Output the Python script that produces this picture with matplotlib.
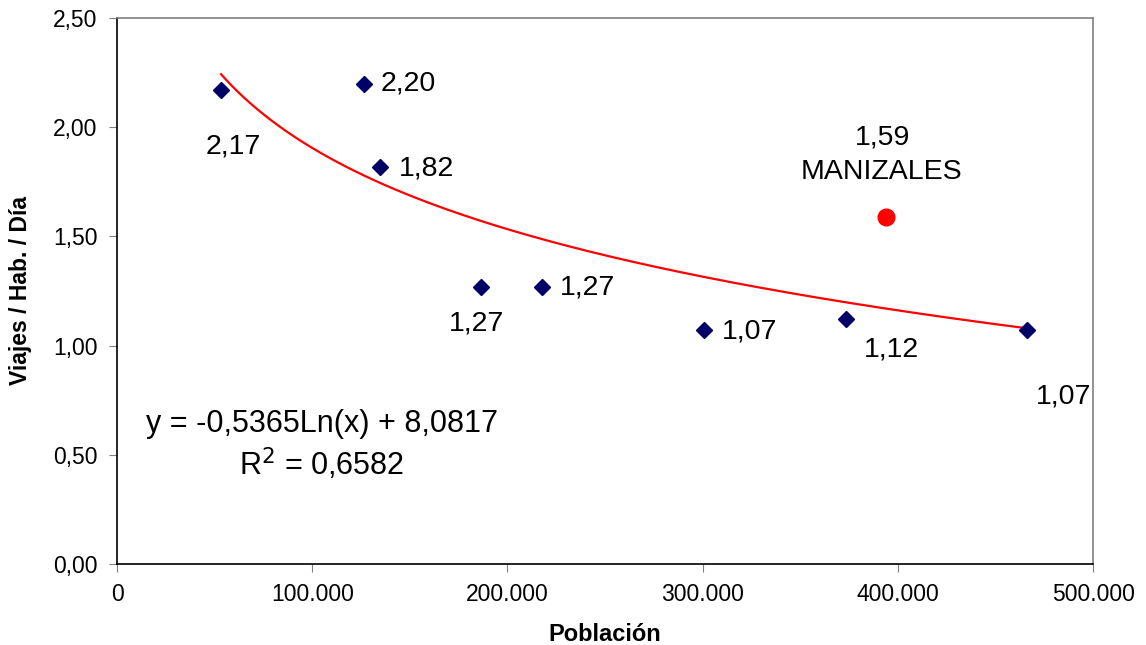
"""Viajes por habitante por día vs población, con tendencia logarítmica."""

import matplotlib

matplotlib.use("Agg")
import matplotlib.pyplot as plt
import numpy as np
from matplotlib.ticker import FuncFormatter

plt.rcParams["font.family"] = ["Liberation Sans", "DejaVu Sans"]

# data
poblacion = [53300, 126500, 134700, 186500, 217700, 300700, 373500, 466200]
viajes = [2.17, 2.20, 1.82, 1.27, 1.27, 1.07, 1.12, 1.07]
etiquetas = ["2,17", "2,20", "1,82", "1,27", "1,27", "1,07", "1,12", "1,07"]
# label offsets in pixels (dx, dy) and horizontal alignment
offsets = [(12, -56, "center"), (17, 0, "left"), (19, -2, "left"),
           (-5, -37, "center"), (18, -1, "left"), (18, -1, "left"),
           (45, -30, "center"), (36, -66, "center")]

manizales_x = 394000
manizales_y = 1.59

coef_a = -0.5365
coef_b = 8.0817
r2 = 0.6582


def fmt_x(v, _):
    return f"{int(v):,}".replace(",", ".")


def fmt_y(v, _):
    return f"{v:.2f}".replace(".", ",")


def main() -> int:
    fig = plt.figure(figsize=(11.46, 6.45), dpi=100)
    ax = fig.add_axes([0.1021, 0.1256, 0.8517, 0.8465])

    xs = np.linspace(min(poblacion), max(poblacion), 300)
    ax.plot(xs, coef_a * np.log(xs) + coef_b, color="#ff0000", lw=1.6, zorder=2)

    ax.plot(poblacion, viajes, "D", color="#000066", ms=8, ls="none", zorder=3)
    for x, y, lab, (dx, dy, ha) in zip(poblacion, viajes, etiquetas, offsets):
        ax.annotate(lab, xy=(x, y), xytext=(dx, dy), textcoords="offset pixels",
                    ha=ha, va="center", fontsize=20.5)

    ax.plot([manizales_x], [manizales_y], "o", color="#ff0000", ms=12, zorder=3)
    ax.annotate("1,59", xy=(manizales_x, manizales_y), xytext=(-4, 79),
                textcoords="offset pixels", ha="center", va="center", fontsize=20.5)
    ax.annotate("MANIZALES", xy=(manizales_x, manizales_y), xytext=(-5, 45),
                textcoords="offset pixels", ha="center", va="center", fontsize=20.5)

    ax.text(0.21, 0.257, "y = -0,5365Ln(x) + 8,0817", transform=ax.transAxes,
            ha="center", va="center", fontsize=22)
    ax.text(0.21, 0.182, "R$^2$ = 0,6582", transform=ax.transAxes,
            ha="center", va="center", fontsize=22)

    ax.set_xlim(0, 500000)
    ax.set_ylim(0, 2.5)
    ax.set_xticks(np.arange(0, 500001, 100000))
    ax.set_yticks(np.arange(0, 2.51, 0.5))
    ax.xaxis.set_major_formatter(FuncFormatter(fmt_x))
    ax.yaxis.set_major_formatter(FuncFormatter(fmt_y))
    ax.tick_params(direction="out", length=6, color="#808080", labelsize=16.5, pad=8)

    for side in ("left", "bottom"):
        ax.spines[side].set_color("black")
        ax.spines[side].set_linewidth(1.2)
    for side in ("top", "right"):
        ax.spines[side].set_color("#808080")
        ax.spines[side].set_linewidth(1.2)

    ax.set_xlabel("Población", fontsize=17, fontweight="bold", labelpad=12)
    ax.set_ylabel("Viajes / Hab. / Día", fontsize=16.5, fontweight="bold", labelpad=15)

    fig.savefig("out.png", dpi=100)
    plt.close(fig)
    return 0


if __name__ == "__main__":
    raise SystemExit(main())
